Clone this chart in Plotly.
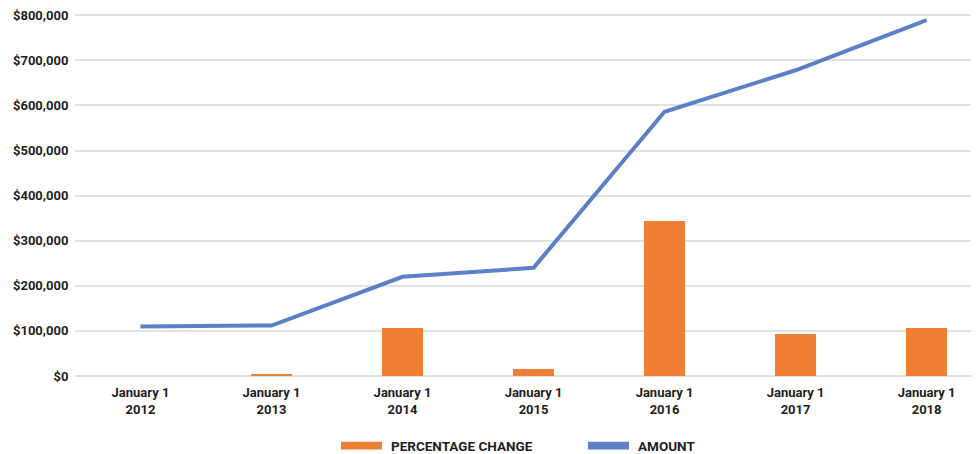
import plotly.graph_objects as go

categories = ["January 1<br>2012", "January 1<br>2013", "January 1<br>2014", "January 1<br>2015",
              "January 1<br>2016", "January 1<br>2017", "January 1<br>2018"]
amount = [110000, 112000, 220000, 240000, 586000, 678000, 789000]
pct_change = [0, 2500, 107000, 16000, 344000, 93000, 107000]
y_ticks = [0, 100000, 200000, 300000, 400000, 500000, 600000, 700000, 800000]
y_tick_labels = ["$" + format(v, ",") for v in y_ticks]

ORANGE = "#ef7f33"
BLUE = "#5b80c6"
FONT = "Roboto"
TXT = "#1e1e1e"

# page body has an 8px margin; figure is placed at (8, 8)
fig = go.Figure()
fig.add_trace(go.Bar(x=list(range(len(categories))), y=pct_change, name="PERCENTAGE CHANGE",
                     marker=dict(color=ORANGE, line=dict(width=0)), width=0.31, showlegend=False))
fig.add_trace(go.Scatter(x=list(range(len(categories))), y=amount, name="AMOUNT", mode="lines",
                         line=dict(color=BLUE, width=4), showlegend=False))

fig.update_layout(
    width=971, height=446,
    margin=dict(l=67, r=0, t=3, b=78),
    plot_bgcolor="white", paper_bgcolor="white",
    font=dict(family=FONT, size=13, color=TXT),
    xaxis=dict(tickmode="array", tickvals=list(range(len(categories))), ticktext=categories,
               range=[-0.5, 6.4], showgrid=False, zeroline=False, showline=False,
               ticks="outside", ticklen=4, tickcolor="rgba(0,0,0,0)",
               tickfont=dict(family=FONT, size=13, color=TXT, weight="bold")),
    yaxis=dict(range=[0, 805000], tickmode="array", tickvals=y_ticks, ticktext=y_tick_labels,
               showgrid=True, gridcolor="#e2e2e2", gridwidth=1.5, zeroline=True,
               zerolinecolor="#e2e2e2", zerolinewidth=1.5, showline=False,
               ticks="outside", ticklen=3, tickcolor="rgba(0,0,0,0)",
               ticklabeloverflow="allow",
               tickfont=dict(family=FONT, size=13, color=TXT, weight="bold")),
    bargap=0,
)

# custom legend (positions in page pixels converted to paper coords)
PL, PW, PB, PH = 75, 904, 376, 365
legend_items = [("PERCENTAGE CHANGE", ORANGE, 341), ("AMOUNT", BLUE, 588)]
for label, color, px in legend_items:
    fig.add_shape(type="rect", xref="paper", yref="paper",
                  x0=(px - PL) / PW, x1=(px + 41 - PL) / PW,
                  y0=(PB - 442) / PH, y1=(PB - 450) / PH,
                  fillcolor=color, line=dict(width=0))
    fig.add_annotation(xref="paper", yref="paper", x=(px + 48 - PL) / PW, y=(PB - 446) / PH,
                       text=label, showarrow=False, xanchor="left", yanchor="middle",
                       font=dict(family=FONT, size=13.5, color=TXT, weight="bold"))

fig.write_html("out.html")
